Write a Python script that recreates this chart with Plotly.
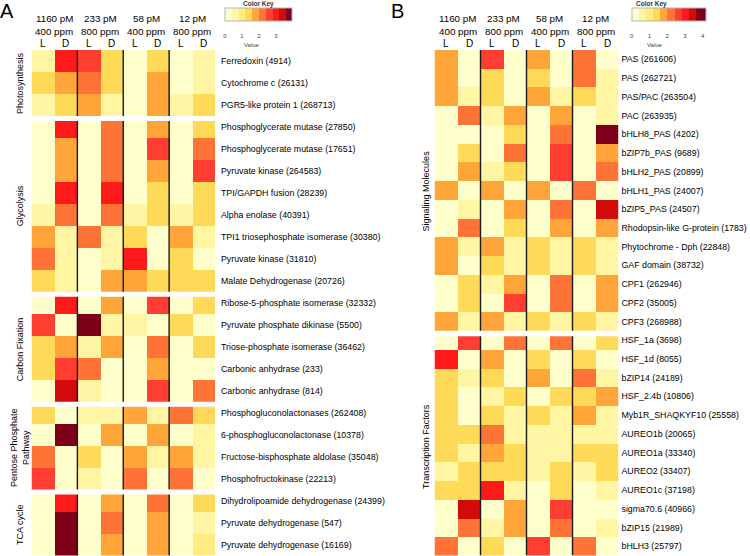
import plotly.graph_objects as go

W, H = 750, 556

cond_top = ["1160 pM", "233 pM", "58 pM", "12 pM"]
cond_bot = ["400 ppm", "800 ppm", "400 ppm", "800 ppm"]
light_dark = ["L", "D", "L", "D", "L", "D", "L", "D"]

# ---------------- Panel A ----------------
genes_a = [
    "Ferredoxin (4914)", "Cytochrome c (26131)", "PGR5-like protein 1 (268713)",
    "Phosphoglycerate mutase (27850)", "Phosphoglycerate mutase (17651)",
    "Pyruvate kinase (264583)", "TPI/GAPDH fusion (28239)", "Alpha enolase (40391)",
    "TPI1 triosephosphate isomerase (30380)", "Pyruvate kinase (31810)",
    "Malate Dehydrogenase (20726)",
    "Ribose-5-phosphate isomerase (32332)", "Pyruvate phosphate dikinase (5500)",
    "Triose-phosphate isomerase (36462)", "Carbonic anhydrase (233)",
    "Carbonic anhydrase (814)",
    "Phosphogluconolactonases (262408)", "6-phosphogluconolactonase (10378)",
    "Fructose-bisphosphate aldolase (35048)", "Phosphofructokinase (22213)",
    "Dihydrolipoamide dehydrogenase (24399)", "Pyruvate dehydrogenase (547)",
    "Pyruvate dehydrogenase (16169)",
]
group_names_a = ["Photosynthesis", "Glycolysis", "Carbon Fixation",
                 "Pentose Phosphate<br>Pathway", "TCA cycle"]
group_sizes_a = [3, 8, 5, 4, 3]
values_a = [
    [0.6, 3.0, 2.6, 1.3, 0.2, 1.3, 0.2, 0.6],
    [1.3, 1.8, 2.2, 1.3, 0.2, 1.8, 0.2, 0.6],
    [0.6, 1.3, 1.8, 0.6, 0.2, 1.8, 0.6, 1.3],
    [0.2, 3.0, 0.2, 2.2, 0.2, 1.8, 0.2, 1.3],
    [0.2, 1.8, 0.2, 2.2, 0.2, 2.6, 0.2, 2.2],
    [0.2, 1.8, 0.2, 2.2, 0.2, 1.8, 0.2, 2.6],
    [0.2, 3.0, 0.2, 3.0, 0.2, 1.3, 0.2, 1.3],
    [0.6, 2.2, 0.2, 2.2, 0.6, 1.3, 0.6, 1.3],
    [1.8, 0.6, 2.2, 0.6, 1.3, 0.2, 1.8, 0.6],
    [2.2, 0.6, 0.2, 0.6, 3.0, 0.2, 1.3, 0.2],
    [1.3, 0.6, 0.2, 1.8, 1.8, 1.3, 1.3, 1.3],
    [0.2, 3.0, 0.2, 1.8, 0.2, 2.6, 0.2, 1.3],
    [2.6, 0.2, 3.8, 0.6, 0.6, 0.2, 1.3, 0.2],
    [1.3, 1.8, 0.6, 1.8, 0.2, 2.2, 0.2, 1.3],
    [1.3, 2.6, 2.2, 0.2, 0.2, 1.8, 0.2, 0.2],
    [0.2, 3.4, 0.6, 0.2, 0.2, 2.6, 0.2, 2.2],
    [1.3, 0.2, 0.6, 0.6, 1.8, 0.6, 2.2, 1.3],
    [0.2, 3.8, 0.2, 1.8, 0.2, 1.8, 0.2, 0.6],
    [2.2, 0.2, 1.3, 0.2, 1.8, 0.6, 1.8, 0.6],
    [2.6, 0.2, 0.6, 0.2, 2.2, 0.2, 2.2, 0.2],
    [0.2, 3.0, 0.2, 1.8, 0.2, 2.2, 0.2, 1.3],
    [0.2, 3.8, 0.2, 2.2, 0.2, 1.8, 0.2, 0.6],
    [0.2, 3.8, 0.2, 1.8, 0.2, 1.8, 0.2, 1.0],
]
zmax_a = 3.94
key_ticks_a = [0, 1, 2, 3]

# ---------------- Panel B ----------------
genes_b = [
    "PAS (261606)", "PAS (262721)", "PAS/PAC (263504)", "PAC (263935)",
    "bHLH8_PAS (4202)", "bZIP7b_PAS (9689)", "bHLH2_PAS (20899)", "bHLH1_PAS (24007)",
    "bZIP5_PAS (24507)", "Rhodopsin-like G-protein (1783)", "Phytochrome - Dph (22848)",
    "GAF domain (38732)", "CPF1 (262946)", "CPF2 (35005)", "CPF3 (268988)",
    "HSF_1a (3698)", "HSF_1d (8055)", "bZIP14 (24189)", "HSF_2.4b (10806)",
    "Myb1R_SHAQKYF10 (25558)", "AUREO1b (20065)", "AUREO1a (33340)", "AUREO2 (33407)",
    "AUREO1c (37198)", "sigma70.6 (40966)", "bZIP15 (21989)", "bHLH3 (25797)",
]
group_names_b = ["Signaling Molecules", "Transcription Factors"]
group_sizes_b = [15, 12]
values_b = [
    [1.8, 0.2, 2.6, 0.2, 1.8, 0.2, 2.2, 0.2],
    [1.8, 0.2, 1.3, 0.2, 1.3, 0.2, 2.2, 0.6],
    [1.8, 0.6, 1.3, 0.2, 1.8, 0.6, 1.3, 0.6],
    [0.2, 2.2, 0.6, 1.8, 0.2, 1.8, 0.2, 0.6],
    [0.2, 0.2, 0.2, 1.3, 0.2, 2.2, 0.2, 3.9],
    [0.2, 1.3, 0.2, 2.2, 0.2, 2.6, 0.2, 1.8],
    [0.2, 1.8, 0.6, 1.3, 0.2, 2.6, 0.2, 2.2],
    [1.8, 0.2, 1.8, 0.2, 1.8, 0.2, 2.2, 0.2],
    [0.2, 0.6, 0.2, 1.8, 0.2, 2.2, 0.2, 3.4],
    [0.2, 2.2, 0.2, 1.3, 0.2, 1.8, 0.2, 1.8],
    [1.8, 0.6, 1.8, 0.6, 1.3, 0.6, 1.3, 0.6],
    [1.8, 0.2, 1.3, 0.6, 1.3, 0.6, 1.3, 0.6],
    [0.2, 1.3, 0.6, 1.8, 0.2, 2.2, 0.2, 1.8],
    [0.2, 1.3, 0.2, 2.6, 0.2, 2.2, 0.2, 1.8],
    [1.8, 0.6, 1.8, 0.6, 1.3, 0.6, 1.3, 0.6],
    [0.2, 2.6, 0.2, 2.2, 0.2, 2.2, 0.2, 1.3],
    [3.0, 0.2, 1.8, 0.2, 1.3, 0.2, 1.3, 0.2],
    [1.3, 0.6, 1.3, 0.2, 1.8, 0.2, 2.2, 0.6],
    [1.3, 0.2, 0.6, 1.3, 0.2, 1.3, 1.3, 1.8],
    [1.3, 0.2, 1.3, 0.6, 1.3, 0.6, 1.8, 0.6],
    [1.3, 1.3, 2.2, 0.6, 0.6, 0.6, 0.6, 0.6],
    [1.3, 0.6, 1.8, 1.3, 0.6, 0.6, 1.3, 1.3],
    [0.6, 1.3, 1.3, 1.3, 0.6, 1.3, 0.6, 1.3],
    [1.3, 1.3, 3.0, 0.6, 0.2, 1.3, 0.2, 0.6],
    [0.2, 3.4, 0.2, 1.8, 0.2, 2.6, 0.2, 0.2],
    [0.2, 2.2, 0.6, 1.8, 0.2, 2.2, 0.2, 0.6],
    [2.2, 0.2, 1.3, 0.2, 2.6, 0.2, 2.2, 0.2],
]
zmax_b = 4.17
key_ticks_b = [0, 1, 2, 3, 4]

# ---------------- Colours ----------------
bin_edges = [0, 0.4, 0.8, 1.2, 1.6, 2.0, 2.4, 2.8, 3.2, 3.6]
bin_colors = ["#FFFFCC", "#FFF5A3", "#FFEB80", "#FFD958", "#FFA53A",
              "#FF7436", "#FF3D30", "#FF1A1A", "#D10A0A", "#7D0018"]


def stepped_scale(zmax):
    edges = bin_edges + [zmax]
    cs = []
    for i, c in enumerate(bin_colors):
        a = min(edges[i] / zmax, 1.0)
        b = min(edges[i + 1] / zmax, 1.0)
        cs.append([a, c])
        cs.append([b, c])
    return cs


FONT = "Liberation Sans, Arial, sans-serif"

# ---------------- Geometry ----------------
top_px, bot_px = 50, 555.5
ydom = [1 - bot_px / H, 1 - top_px / H]
xdom_a = [31.5 / W, 215 / W]
xdom_b = [434.5 / W, 618.5 / W]

fig = go.Figure()


def colorbar(x_px, len_px, ticks):
    return dict(
        orientation="h", x=x_px / W, xanchor="left", y=1 - 8 / H, yanchor="top",
        lenmode="pixels", len=len_px, thicknessmode="pixels", thickness=13,
        outlinewidth=1, outlinecolor="#b5b5b5", xpad=0, ypad=0,
        tickvals=ticks, ticks="outside", ticklen=10, tickcolor="rgba(0,0,0,0)",
        tickfont=dict(size=6, color="#444", family=FONT),
    )


fig.add_trace(go.Heatmap(
    z=values_a, x=list(range(8)), y=list(range(len(genes_a))),
    zmin=0, zmax=zmax_a, colorscale=stepped_scale(zmax_a),
    xaxis="x", yaxis="y", hoverinfo="skip",
    colorbar=colorbar(225, 67, key_ticks_a),
))
fig.add_trace(go.Heatmap(
    z=values_b, x=list(range(8)), y=list(range(len(genes_b))),
    zmin=0, zmax=zmax_b, colorscale=stepped_scale(zmax_b),
    xaxis="x2", yaxis="y2", hoverinfo="skip",
    colorbar=colorbar(631.7, 74.3, key_ticks_b),
))

LABEL_SIZE = 8.8
axis_common = dict(showgrid=False, zeroline=False, showline=False)
fig.update_layout(
    width=W, height=H,
    margin=dict(l=0, r=0, t=0, b=0, pad=0, autoexpand=False),
    paper_bgcolor="white", plot_bgcolor="white",
    font=dict(family=FONT, color="black"),
    xaxis=dict(domain=xdom_a, range=[-0.5, 7.5], showticklabels=False, anchor="y", **axis_common),
    yaxis=dict(domain=ydom, range=[len(genes_a) - 0.5, -0.5], anchor="x", side="right",
               tickvals=list(range(len(genes_a))), ticktext=genes_a, ticks="",
               ticklabelstandoff=5, tickfont=dict(size=LABEL_SIZE, family=FONT), **axis_common),
    xaxis2=dict(domain=xdom_b, range=[-0.5, 7.5], showticklabels=False, anchor="y2", **axis_common),
    yaxis2=dict(domain=ydom, range=[len(genes_b) - 0.5, -0.5], anchor="x2", side="right",
                tickvals=list(range(len(genes_b))), ticktext=genes_b, ticks="",
                ticklabelstandoff=2, tickfont=dict(size=LABEL_SIZE, family=FONT), **axis_common),
)

shapes = []
annotations = []


def decorate(xref, yref, n_rows, sizes, names, row_px, group_x_px, gap_px):
    # separators between condition pairs
    for xv in (1.5, 3.5, 5.5):
        shapes.append(dict(type="line", xref=xref, yref=yref, x0=xv, x1=xv,
                           y0=-0.5, y1=n_rows - 0.5,
                           line=dict(color="#1a1a1a", width=1.4)))
    # white gaps between groups and rotated group labels
    start = 0
    for k, (s, name) in enumerate(zip(sizes, names)):
        if k > 0:
            b = start - 0.5
            shapes.append(dict(type="rect", xref=xref, yref=yref, x0=-0.7, x1=7.7,
                               y0=b, y1=b + gap_px / row_px,
                               fillcolor="white", line=dict(width=0)))
        center = start + (s - 1) / 2
        if k > 0:
            center += gap_px / row_px / 2
        annotations.append(dict(text=name, xref="paper", yref=yref,
                                x=group_x_px / W, y=center, textangle=-90,
                                showarrow=False, xanchor="center", yanchor="middle",
                                font=dict(size=9, family=FONT)))
        start += s
    # condition headers
    for k in range(4):
        annotations.append(dict(text=cond_top[k], xref=xref, yref="paper",
                                x=2 * k + 0.5, y=1 - 18 / H, showarrow=False,
                                yanchor="middle", font=dict(size=9.8, family=FONT)))
        annotations.append(dict(text=cond_bot[k], xref=xref, yref="paper",
                                x=2 * k + 0.5, y=1 - 32 / H, showarrow=False,
                                yanchor="middle", font=dict(size=9.8, family=FONT)))
    for c in range(8):
        annotations.append(dict(text=light_dark[c], xref=xref, yref="paper",
                                x=c, y=1 - 44 / H, showarrow=False,
                                yanchor="middle", font=dict(size=10, family=FONT)))


decorate("x", "y", len(genes_a), group_sizes_a, group_names_a, 22.0, 20, 5)
decorate("x2", "y2", len(genes_b), group_sizes_b, group_names_b, 18.7, 426, 5.5)

# key titles / sub-labels and panel letters
for cx in (258.5, 668.8):
    annotations.append(dict(text="<b>Color Key</b>", xref="paper", yref="paper",
                            x=cx / W, y=1 - 4 / H, showarrow=False, yanchor="middle",
                            font=dict(size=6.5, color="#333", family=FONT)))
for cx in (252, 665):
    annotations.append(dict(text="Value", xref="paper", yref="paper", x=cx / W, y=1 - 45 / H,
                            showarrow=False, yanchor="middle",
                            font=dict(size=6, color="#444", family=FONT)))
annotations.append(dict(text="A", xref="paper", yref="paper", x=7 / W, y=1 - 11 / H,
                        showarrow=False, xanchor="center", yanchor="middle",
                        font=dict(size=20, family=FONT)))
annotations.append(dict(text="B", xref="paper", yref="paper", x=397 / W, y=1 - 11 / H,
                        showarrow=False, xanchor="center", yanchor="middle",
                        font=dict(size=20, family=FONT)))

fig.update_layout(shapes=shapes, annotations=annotations)
fig.write_html(
    "out.html",
    config={"displayModeBar": False},
    post_script="document.body.style.margin='0';document.body.style.overflow='hidden';",
)
